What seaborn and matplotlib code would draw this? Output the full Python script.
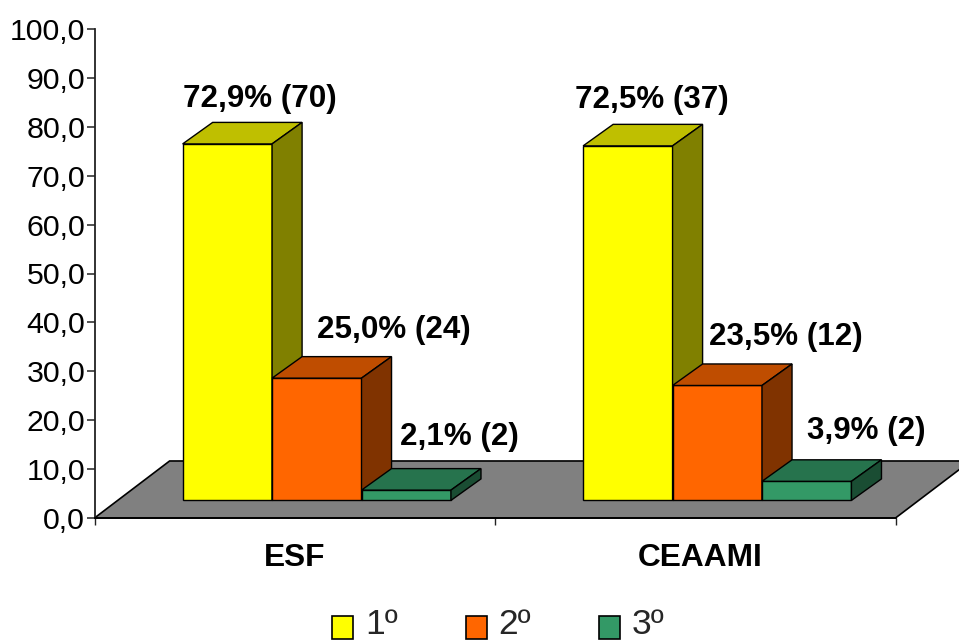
import matplotlib
matplotlib.use("Agg")
import matplotlib.pyplot as plt
import matplotlib.transforms as mtrans
from matplotlib.patches import Patch, Polygon
import numpy as np
import pandas as pd
import seaborn as sns

# Values
groups = ["ESF", "CEAAMI"]
places = ["1º", "2º", "3º"]
percent_esf = [72.9, 25.0, 2.1]
percent_ceaami = [72.5, 23.5, 3.9]
count_esf = [70, 24, 2]
count_ceaami = [37, 12, 2]

# Styling
colours = ["#FFFF00", "#FF6600", "#339966"]
floor_colour = "#808080"
y_ticks = list(range(0, 101, 10))

# Hand placement of the value labels: pixels from each bar's front top-left corner
label_nudges = {
    ("ESF", "1º"): (0, 37), ("ESF", "2º"): (45, 40), ("ESF", "3º"): (38, 45),
    ("CEAAMI", "1º"): (-8, 38), ("CEAAMI", "2º"): (36, 40), ("CEAAMI", "3º"): (45, 42),
}

# Oblique projection used for the pseudo-3D look (category units, value units)
floor_dx, floor_dy = 0.1875, 11.66
bar_dx, bar_dy = 0.075, 4.4
lift_dx, lift_dy = 0.055, 3.6

sns.set_theme(style="white")
plt.rcParams["font.family"] = ["Liberation Sans", "DejaVu Sans"]

W, H = 959, 644
fig = plt.figure(figsize=(W / 100, H / 100), dpi=100, facecolor="white")
ax = fig.add_axes([94.5 / W, (H - 518) / H, 400.5 * 2 / W, 489 / H], facecolor="none")

table = pd.DataFrame({
    "grupo": np.repeat(groups, len(places)),
    "lugar": places * len(groups),
    "pct": percent_esf + percent_ceaami,
    "n": count_esf + count_ceaami,
})

sns.barplot(
    data=table, x="grupo", y="pct", hue="lugar", order=groups, hue_order=places,
    palette=colours, saturation=1, width=0.67, dodge=True, gap=0, legend=False,
    edgecolor="black", linewidth=1.0, ax=ax,
)
ax.set_xlim(-0.5, 1.5)
ax.set_ylim(0, 100)
ax.set_xlabel("")
ax.set_ylabel("")

# Bars in left-to-right order, so nearer faces paint over earlier ones
bars = sorted(ax.patches, key=lambda p: p.get_x())

# Sloped floor behind the bars
floor = Polygon(
    [(-0.5, 0), (1.5, 0), (1.5 + floor_dx, floor_dy), (-0.5 + floor_dx, floor_dy)],
    closed=True, facecolor=floor_colour, edgecolor="black", linewidth=1.2,
    clip_on=False, zorder=0.5,
)
ax.add_patch(floor)

# Lift each bar onto the floor and give it a top and a side face
z = 3
for bar in bars:
    x0 = bar.get_x() + lift_dx
    w = bar.get_width()
    h = bar.get_height()
    rgb = np.array(bar.get_facecolor()[:3])
    bar.set_x(x0)
    bar.set_y(lift_dy)
    bar.set_clip_on(False)
    bar.set_zorder(z)
    y1 = lift_dy + h
    top = Polygon(
        [(x0, y1), (x0 + w, y1), (x0 + w + bar_dx, y1 + bar_dy), (x0 + bar_dx, y1 + bar_dy)],
        closed=True, facecolor=rgb * 0.75, edgecolor="black", linewidth=1.0,
        clip_on=False, zorder=z + 0.1,
    )
    side = Polygon(
        [(x0 + w, lift_dy), (x0 + w + bar_dx, lift_dy + bar_dy),
         (x0 + w + bar_dx, y1 + bar_dy), (x0 + w, y1)],
        closed=True, facecolor=rgb * 0.5, edgecolor="black", linewidth=1.0,
        clip_on=False, zorder=z + 0.1,
    )
    ax.add_patch(top)
    ax.add_patch(side)
    z += 1

# Value labels
for bar, (_, row) in zip(bars, table.iterrows()):
    text = f"{row['pct']:.1f}".replace(".", ",") + f"% ({row['n']})"
    nudge = label_nudges[(row["grupo"], row["lugar"])]
    ax.annotate(
        text, xy=(bar.get_x(), bar.get_y() + bar.get_height()),
        xytext=(nudge[0] * 0.72, nudge[1] * 0.72), textcoords="offset points",
        ha="left", va="baseline", fontsize=22.6, fontweight="bold", color="black",
        annotation_clip=False, zorder=50,
    )

# Axes furniture
for side_name in ("top", "right"):
    ax.spines[side_name].set_visible(False)
ax.spines["left"].set_color("#222222")
ax.spines["left"].set_linewidth(1.3)
ax.spines["bottom"].set_color("black")
ax.spines["bottom"].set_linewidth(1.3)

ax.set_yticks(y_ticks)
ax.set_yticklabels([f"{v:.1f}".replace(".", ",") for v in y_ticks])
ax.tick_params(axis="y", left=True, length=5.5, width=1.1, color="#222222",
               pad=1.2, labelsize=21.8, labelcolor="black")

ax.set_xticks([0, 1])
ax.set_xticklabels(groups, fontsize=22.8, fontweight="bold", color="black")
ax.tick_params(axis="x", which="major", bottom=False, length=0, pad=18)
ax.set_xticks([-0.5, 0.5, 1.5], minor=True)
ax.tick_params(axis="x", which="minor", bottom=True, length=5, width=1.0, color="#222222")

shift = mtrans.ScaledTranslation(5 / 100, 0, fig.dpi_scale_trans)
second_label = ax.get_xticklabels()[1]
second_label.set_transform(second_label.get_transform() + shift)

# Legend along the bottom edge; its text is raised to stay inside the figure
handles = [Patch(facecolor=c, edgecolor="black", linewidth=1.2, label=p)
           for c, p in zip(colours, places)]
legend = fig.legend(
    handles=handles, loc="lower left", bbox_to_anchor=(332 / W, -3 / H),
    ncol=3, frameon=False, fontsize=25.5, borderpad=0, borderaxespad=0,
    handlelength=0.6, handleheight=0.6, handletextpad=0.33, columnspacing=1.92,
)
for label in legend.get_texts():
    label.set_y(6)

fig.savefig("out.png", dpi=100, facecolor="white")
